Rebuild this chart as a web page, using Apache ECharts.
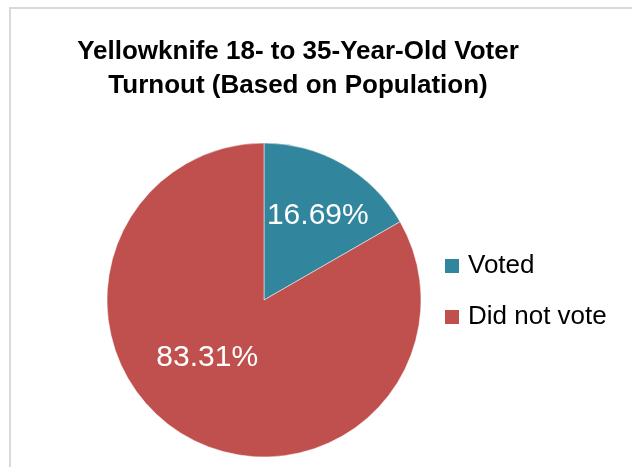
<!DOCTYPE html>
<html>
<head>
<meta charset="utf-8">
<script src="https://cdn.jsdelivr.net/npm/echarts@6/dist/echarts.min.js"></script>
<style>
html,body{margin:0;padding:0;background:#fff;}
#c{width:632px;height:467px;}
</style>
</head>
<body>
<div id="c"></div>
<script>
const titleText = 'Yellowknife 18- to 35-Year-Old Voter\nTurnout (Based on Population)';
const categories = ['Voted', 'Did not vote'];
const values = [16.69, 83.31];
const colors = ['#31859C', '#C0504D'];
const labelOffsets = [[13, -14], [-16, -13]];

const FONT = "'Liberation Sans', Arial, sans-serif";

const chart = echarts.init(document.getElementById('c'), null, {renderer: 'canvas'});
chart.setOption({
  animation: false,
  backgroundColor: '#fff',
  graphic: [{
    type: 'rect',
    shape: {x: 10, y: 8, width: 700, height: 600},
    style: {fill: 'none', stroke: '#d9d9d9', lineWidth: 2},
    silent: true,
    z: -10
  }],
  title: {
    text: titleText,
    left: 298,
    textAlign: 'center',
    top: 35,
    padding: 0,
    textStyle: {
      fontFamily: FONT,
      fontWeight: 'bold',
      fontSize: 26,
      lineHeight: 34,
      color: '#000'
    }
  },
  legend: {
    orient: 'vertical',
    left: 443,
    top: 253,
    itemWidth: 16,
    itemHeight: 16,
    itemGap: 25,
    icon: 'rect',
    padding: 0,
    data: categories,
    textStyle: {fontFamily: FONT, fontSize: 26, color: '#000', padding: [0, 0, 0, 3]}
  },
  series: [{
    type: 'pie',
    center: [264, 300],
    radius: [0, 157],
    startAngle: 90,
    clockwise: true,
    label: {
      show: true,
      position: 'inside',
      fontFamily: FONT,
      fontSize: 30,
      color: '#fff',
      formatter: p => p.value.toFixed(2) + '%'
    },
    labelLine: {show: false},
    itemStyle: {borderColor: '#ffffff', borderWidth: 0.5},
    emphasis: {disabled: true},
    data: categories.map((name, i) => ({
      name: name,
      value: values[i],
      itemStyle: {color: colors[i]},
      label: {offset: labelOffsets[i]}
    }))
  }]
});
</script>
</body>
</html>
